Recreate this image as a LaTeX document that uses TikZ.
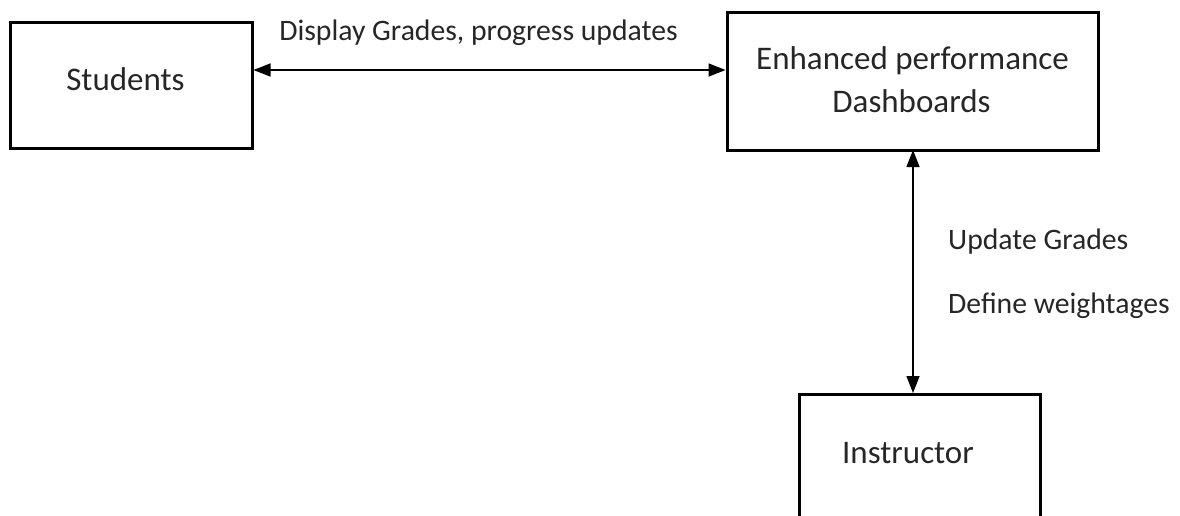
\documentclass[tikz,border=0pt]{standalone}
\usepackage{fontspec}
\setmainfont{Carlito}
\usetikzlibrary{arrows.meta}
\tikzset{
  box/.style={draw=black, line width=3pt, rectangle, inner sep=0pt},
  boxtext/.style={font=\fontsize{33}{40}\selectfont, text=black!85, anchor=base, inner sep=0pt},
  lbl/.style={font=\fontsize{29.7}{36}\selectfont, text=black!85, inner sep=0pt},
  conn/.style={line width=1.5pt, {Triangle[length=17pt,width=13pt]}-{Triangle[length=17pt,width=13pt]}}
}
\begin{document}
\begin{tikzpicture}[x=1pt,y=-1pt]
\useasboundingbox (0,0) rectangle (1180,515);
% boxes
\node[box, minimum width=242pt, minimum height=126pt] (students) at (131,85) {};
\node[box, minimum width=371pt, minimum height=138pt] (dash) at (912.5,81) {};
\node[box, minimum width=241pt, minimum height=180pt, anchor=north] (instr) at (919.5,393) {};
% texts
\node[boxtext] (studentsT) at (125.5,90) {Students};
\node[boxtext] (dashT1) at (912.5,69) {Enhanced performance};
\node[boxtext] (dashT2) at (911.5,112) {Dashboards};
\node[boxtext] (instrT) at (908,463) {Instructor};
% connectors
\coordinate (hl) at (students.east |- 0,70);
\coordinate (hr) at (dash.west |- 0,70);
\draw[conn] (hl) -- (hr);
\coordinate (vt) at (913,150);
\coordinate (vb) at (913,393);
\draw[conn] (vt) -- (vb);
% labels
\node[lbl, anchor=base] (l1) at (478.5,40) {Display Grades, progress updates};
\node[lbl, anchor=base west] (l2) at (948,249) {Update Grades};
\node[lbl, anchor=base west] (l3) at (948,313) {Define weightages};
\end{tikzpicture}
\end{document}
